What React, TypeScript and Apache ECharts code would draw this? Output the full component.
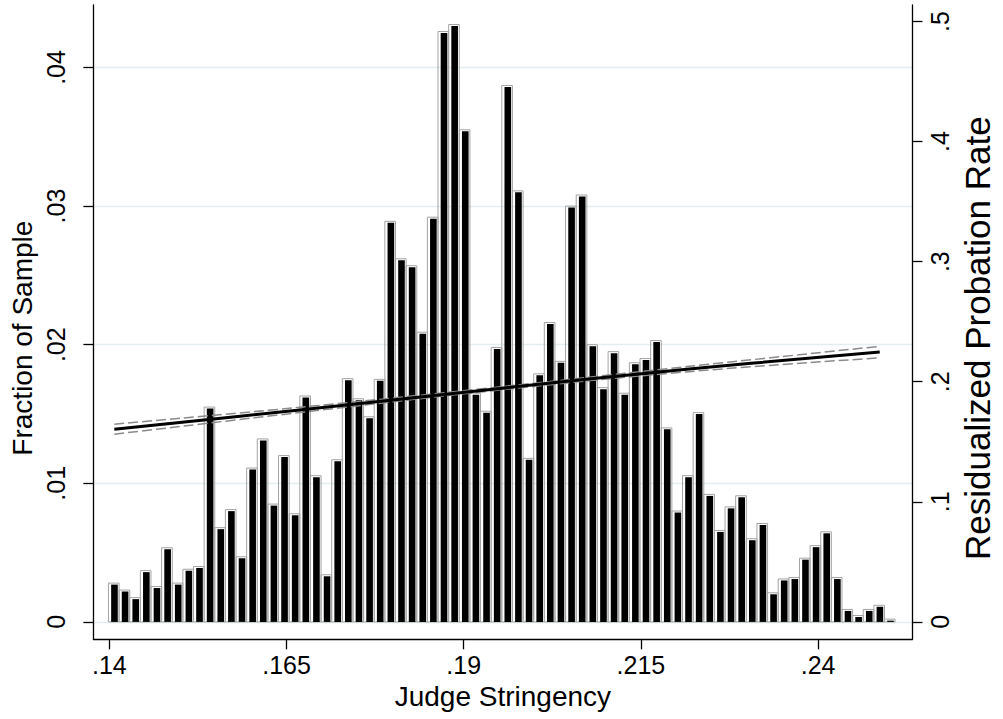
import React, { useEffect, useRef } from "react";
import * as echarts from "echarts";

// Histogram bins of judge stringency (fraction of sample per bin)
const BIN_START = 0.1398;
const BIN_WIDTH = 0.0015;
const binShares = [
  0.0028, 0.0023, 0.00175, 0.0037, 0.00255, 0.00535, 0.0028, 0.0038, 0.004, 0.0155,
  0.0068, 0.0081, 0.0047, 0.0111, 0.0132, 0.0085, 0.012, 0.0078, 0.0163, 0.01055,
  0.0034, 0.0117, 0.01755, 0.0161, 0.0148, 0.0175, 0.0289, 0.0262, 0.0257, 0.0209,
  0.0292, 0.0426, 0.0431, 0.0355, 0.0165, 0.0152, 0.0198, 0.0387, 0.0311, 0.0118,
  0.0179, 0.0216, 0.0188, 0.03, 0.0308, 0.02, 0.0169, 0.0195, 0.0165, 0.0187,
  0.019, 0.0203, 0.014, 0.008, 0.01055, 0.0151, 0.0092, 0.0066, 0.0083, 0.0091,
  0.006, 0.0071, 0.0021, 0.0031, 0.0032, 0.0046, 0.0055, 0.0065, 0.0032, 0.0009,
  0.00046, 0.0009, 0.0012, 0.0002,
];

// Fitted residualized probation rate and its confidence band
const fitX = [0.1407, 0.1665, 0.1941, 0.2218, 0.2487];
const fitY = [0.1605, 0.1763, 0.1938, 0.2106, 0.2247];
const ciUpper = [0.1647, 0.1785, 0.1951, 0.2128, 0.2295];
const ciLower = [0.1563, 0.1741, 0.1925, 0.2084, 0.2199];

// Tick positions
const xTicks = [0.14, 0.165, 0.19, 0.215, 0.24];
const leftTicks = [0, 0.01, 0.02, 0.03, 0.04];
const rightTicks = [0, 0.1, 0.2, 0.3, 0.4, 0.5];

const FONT = "Liberation Sans, Arial, sans-serif";

const fmt = (v: number) =>
  v === 0 ? "0" : String(+v.toFixed(3)).replace(/^0\./, ".");

export default function App() {
  const ref = useRef<HTMLDivElement>(null);

  useEffect(() => {
    if (!ref.current) return;
    const chart = echarts.init(ref.current, undefined, { renderer: "svg" });

    const axisLine = { show: true, onZero: false, lineStyle: { color: "#000", width: 1.3 } };
    const tickStyle = { color: "#000", width: 1.3 };
    const labelBase = { color: "#000", fontSize: 25, fontFamily: FONT, formatter: fmt };

    const bars = binShares.map((v, i) => [BIN_START + i * BIN_WIDTH, v]);

    chart.setOption({
      animation: false,
      backgroundColor: "#fff",
      grid: { left: 92, right: 74.7, top: 5, bottom: 79.7 },
      xAxis: {
        type: "value",
        min: 0.137748,
        max: 0.253307,
        axisLine,
        axisTick: { show: true, length: 10, customValues: xTicks, lineStyle: tickStyle },
        axisLabel: { ...labelBase, customValues: xTicks, margin: 13 },
        splitLine: { show: false },
        name: "Judge Stringency",
        nameLocation: "middle",
        nameGap: 42,
        nameTextStyle: { color: "#000", fontSize: 28, fontFamily: FONT },
      },
      yAxis: [
        {
          type: "value",
          position: "left",
          min: -0.001255,
          max: 0.044509,
          axisLine,
          axisTick: { show: true, length: 10, customValues: leftTicks, lineStyle: tickStyle },
          axisLabel: { ...labelBase, customValues: leftTicks, rotate: 90, margin: 24.5 },
          splitLine: { show: true, lineStyle: { color: "#e4edf0", width: 1.3 } },
          name: "Fraction of Sample",
          nameLocation: "middle",
          nameRotate: 90,
          nameGap: 55,
          nameTextStyle: { color: "#000", fontSize: 28, fontFamily: FONT, padding: [0, 32, 0, 0] },
        },
        {
          type: "value",
          position: "right",
          min: -0.01449,
          max: 0.51374,
          axisLine,
          axisTick: { show: true, length: 10, customValues: rightTicks, lineStyle: tickStyle },
          axisLabel: { ...labelBase, customValues: rightTicks, rotate: 90, margin: 14.7 },
          splitLine: { show: false },
          name: "Residualized Probation Rate",
          nameLocation: "middle",
          nameRotate: 90,
          nameGap: 36,
          nameTextStyle: { color: "#000", fontSize: 35, fontFamily: FONT, padding: [0, 32, 0, 0] },
        },
      ],
      series: [
        {
          type: "custom",
          xAxisIndex: 0,
          yAxisIndex: 0,
          data: bars,
          encode: { x: 0, y: 1 },
          z: 2,
          renderItem: (_params: any, api: any) => {
            const x0 = api.value(0);
            const v = api.value(1);
            const tl = api.coord([x0, v]);
            const br = api.coord([x0 + BIN_WIDTH, 0]);
            const w = br[0] - tl[0];
            const h = br[1] - tl[1];
            return {
              type: "group",
              children: [
                {
                  type: "rect",
                  shape: { x: tl[0] + 0.5, y: tl[1], width: w, height: h },
                  style: { fill: "none", stroke: "#a3a3a3", lineWidth: 1 },
                },
                {
                  type: "rect",
                  shape: { x: tl[0] + 3.2, y: tl[1] + 1.5, width: w - 4, height: Math.max(h - 1.5, 0) },
                  style: { fill: "#000" },
                },
              ],
            };
          },
        },
        {
          type: "line",
          yAxisIndex: 1,
          data: fitX.map((x, i) => [x, ciUpper[i]]),
          symbol: "none",
          smooth: 0.4,
          z: 3,
          lineStyle: { color: "#8a8a8a", width: 1.5, type: [10, 4] },
        },
        {
          type: "line",
          yAxisIndex: 1,
          data: fitX.map((x, i) => [x, ciLower[i]]),
          symbol: "none",
          smooth: 0.4,
          z: 3,
          lineStyle: { color: "#8a8a8a", width: 1.5, type: [10, 4] },
        },
        {
          type: "line",
          yAxisIndex: 1,
          data: fitX.map((x, i) => [x, fitY[i]]),
          symbol: "none",
          smooth: 0.4,
          z: 4,
          lineStyle: { color: "#000", width: 3 },
        },
      ],
    });

    return () => chart.dispose();
  }, []);

  return (
    <div
      ref={ref}
      style={{ position: "fixed", left: 0, top: 0, width: 1003, height: 719 }}
    />
  );
}
